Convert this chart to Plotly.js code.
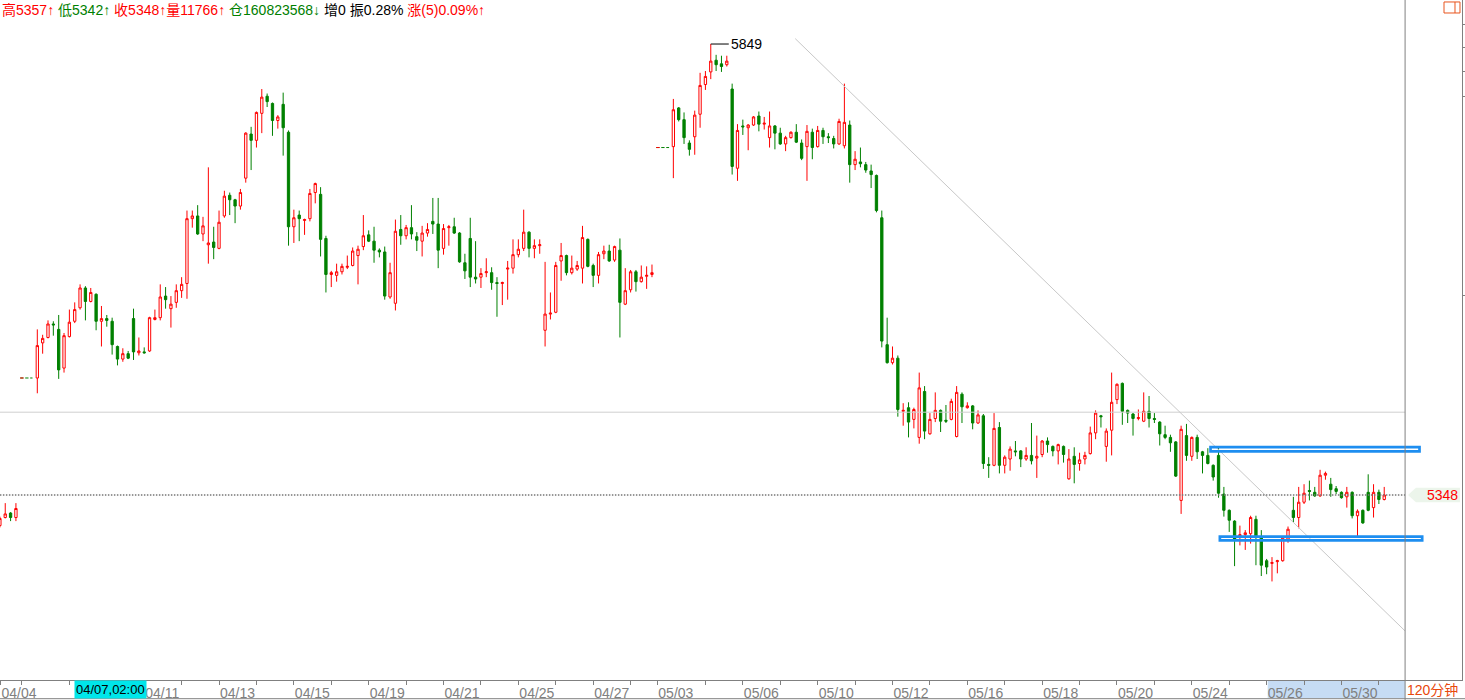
<!DOCTYPE html>
<html><head><meta charset="utf-8">
<script src="https://cdn.plot.ly/plotly-3.0.1.min.js"></script>
<style>html,body{margin:0;padding:0;background:#fff;overflow:hidden}#chart{width:1465px;height:700px}</style>
</head><body><div id="chart"></div>
<script>
// ---------- DATA (120-minute bars, prices) ----------
// segment A: tail of previous series (starts at slot -7)
const startA = -7;
const openA  = [5314, 5323, 5328, 5323];
const highA  = [5324, 5339, 5329, 5339];
const lowA   = [5312, 5322, 5319, 5319];
const closeA = [5322, 5327, 5323, 5333];

// segment B: 04/04 .. 04/28 (starts at slot 0)
const startB = 0;
const openB = [5478,5517,5523,5538,5532,5489,5524,5541,5556,5578,5563,5571,5541,5544,5541,5513,5499,5505,5544,5506,
5507,5508,5543,5545,5569,5555,5562,5575,5583,5655,5658,5638,5626,5629,5622,5658,5681,5676,5669,5700,
5749,5742,5772,5791,5783,5764,5782,5751,5646,5659,5653,5655,5684,5682,5633,5593,5592,5596,5601,5603,
5614,5624,5637,5630,5620,5618,5568,5561,5643,5636,5645,5635,5630,5639,5652,5649,5622,5645,5646,5639,
5606,5633,5590,5590,5595,5595,5584,5583,5599,5600,5615,5622,5640,5622,5625,5531,5549,5551,5608,5614,
5595,5599,5600,5632,5603,5592,5616,5619,5609,5620,5560,5576,5596,5585,5591,5593];
const highB = [5532,5526,5542,5541,5548,5528,5554,5562,5582,5580,5578,5572,5558,5548,5545,5514,5511,5508,5555,5523,
5512,5546,5554,5582,5579,5569,5582,5590,5664,5664,5670,5657,5712,5646,5664,5686,5684,5677,5688,5751,
5757,5774,5799,5794,5784,5770,5795,5753,5665,5664,5655,5688,5695,5690,5636,5597,5605,5605,5614,5623,
5625,5659,5642,5646,5622,5624,5606,5654,5659,5648,5670,5640,5647,5650,5678,5678,5649,5648,5656,5640,
5616,5656,5630,5600,5611,5601,5590,5585,5608,5632,5632,5665,5641,5632,5632,5607,5573,5607,5628,5615,
5614,5608,5647,5633,5605,5618,5625,5626,5625,5633,5600,5598,5598,5603,5602,5604];
const lowB = [5461,5505,5522,5525,5477,5484,5523,5539,5554,5542,5562,5531,5513,5535,5504,5492,5496,5499,5498,5503,
5505,5507,5542,5542,5555,5534,5556,5567,5566,5645,5637,5630,5605,5610,5621,5656,5659,5650,5665,5695,
5709,5734,5750,5779,5747,5755,5725,5625,5628,5630,5637,5652,5672,5613,5573,5579,5585,5593,5599,5602,
5582,5620,5629,5606,5612,5565,5566,5553,5626,5632,5632,5619,5613,5635,5638,5600,5615,5625,5638,5606,
5588,5579,5583,5578,5590,5576,5546,5559,5565,5594,5612,5619,5612,5611,5616,5513,5543,5550,5586,5592,
5593,5597,5583,5601,5579,5583,5610,5607,5607,5523,5559,5573,5574,5584,5577,5590];
const closeB = [5514,5522,5538,5537,5487,5525,5540,5554,5578,5563,5573,5541,5544,5542,5515,5499,5505,5500,5507,5508,
5506,5545,5545,5568,5565,5560,5575,5582,5655,5658,5638,5647,5628,5623,5651,5680,5676,5669,5684,5750,
5742,5773,5790,5785,5764,5768,5756,5646,5656,5655,5654,5683,5694,5632,5593,5595,5596,5602,5602,5619,
5621,5636,5630,5620,5618,5569,5595,5641,5636,5645,5638,5631,5639,5643,5649,5620,5644,5646,5639,5607,
5597,5590,5588,5594,5596,5584,5583,5584,5600,5615,5621,5640,5622,5625,5626,5549,5550,5603,5614,5595,
5600,5603,5634,5602,5592,5615,5619,5608,5624,5562,5575,5596,5585,5590,5592,5595];

// segment C: 05/03 .. 05/30 (starts at slot 119)
const startC = 119;
const openC = [5735,5778,5765,5739,5746,5771,5804,5818,5831,5827,5826,5799,5711,5758,5756,5759,5769,5760,5745,5758,
5750,5738,5745,5751,5739,5735,5751,5735,5753,5746,5744,5738,5736,5759,5715,5718,5715,5708,5703,5656,
5515,5495,5500,5441,5445,5432,5412,5463,5416,5433,5442,5431,5432,5413,5460,5445,5447,5428,5436,5382,
5381,5423,5381,5388,5397,5397,5388,5392,5389,5393,5408,5402,5397,5402,5366,5391,5383,5388,5394,5417,
5436,5402,5420,5454,5472,5442,5438,5433,5430,5441,5433,5429,5415,5412,5407,5342,5414,5391,5412,5396,
5392,5381,5392,5349,5331,5319,5302,5304,5305,5321,5301,5275,5272,5274,5275,5299,5331,5323,5340,5353,
5351,5347,5370,5360,5355,5351,5346,5351,5325,5331,5351,5334,5351,5343];
const highC = [5788,5779,5773,5742,5775,5817,5819,5849,5837,5836,5836,5805,5760,5765,5760,5769,5774,5768,5774,5759,
5756,5747,5752,5760,5743,5759,5755,5758,5756,5750,5747,5766,5805,5764,5730,5734,5718,5715,5704,5664,
5545,5513,5503,5450,5451,5445,5484,5469,5439,5462,5443,5448,5455,5469,5462,5451,5448,5442,5438,5390,
5439,5429,5392,5402,5408,5398,5401,5428,5414,5409,5412,5403,5405,5403,5399,5401,5395,5396,5424,5442,
5437,5422,5484,5472,5473,5443,5439,5443,5462,5458,5439,5430,5425,5415,5408,5425,5427,5413,5415,5397,
5400,5382,5402,5357,5332,5320,5314,5309,5325,5325,5309,5277,5279,5276,5301,5313,5346,5357,5360,5364,
5357,5376,5374,5367,5358,5352,5357,5352,5332,5332,5371,5360,5354,5357];
const lowC = [5700,5763,5738,5725,5726,5756,5798,5810,5819,5818,5824,5704,5697,5748,5731,5758,5752,5754,5734,5732,
5737,5730,5744,5739,5720,5697,5721,5734,5738,5739,5733,5737,5733,5695,5709,5712,5706,5689,5662,5512,
5494,5493,5435,5425,5412,5422,5405,5410,5415,5429,5418,5428,5431,5412,5428,5444,5421,5427,5377,5367,
5380,5372,5372,5375,5391,5379,5386,5382,5367,5390,5395,5391,5382,5384,5365,5361,5375,5382,5393,5410,
5423,5385,5392,5449,5426,5428,5414,5431,5429,5423,5428,5403,5410,5396,5368,5327,5386,5386,5388,5372,
5382,5364,5345,5324,5307,5269,5292,5287,5294,5270,5258,5260,5252,5261,5274,5295,5318,5311,5338,5342,
5346,5346,5365,5346,5349,5344,5334,5322,5302,5316,5330,5323,5338,5342];
const closeC = [5776,5765,5745,5732,5770,5803,5813,5830,5826,5824,5830,5713,5753,5757,5759,5768,5760,5761,5758,5750,
5738,5745,5751,5740,5722,5752,5734,5753,5746,5745,5738,5763,5762,5715,5721,5716,5709,5704,5664,5519,
5495,5500,5443,5442,5429,5443,5467,5419,5432,5442,5430,5430,5452,5462,5446,5447,5428,5437,5383,5381,
5422,5381,5390,5399,5396,5388,5392,5386,5391,5408,5404,5397,5404,5393,5388,5382,5387,5392,5417,5439,
5435,5419,5451,5471,5441,5439,5433,5434,5441,5433,5432,5416,5412,5406,5369,5421,5392,5412,5396,5392,
5383,5368,5350,5331,5320,5299,5304,5306,5323,5301,5270,5268,5273,5275,5300,5310,5323,5340,5350,5352,
5347,5370,5372,5354,5352,5345,5351,5325,5330,5317,5331,5351,5343,5348];

// reference / drawn lines
const levelPrice = 5440;                 // thin grey horizontal level
const trendSlots = [141.8, 255.9];       // hand-drawn trend line
const trendPrices = [5855, 5197];
const gapSlots = [[-3.2, -0.9], [115.8, 118.2]];   // dashed markers at series joins
const gapPrices = [5478, 5734];
const boxSlots0 = [219.5, 221.25];       // blue drawn boxes
const boxSlots1 = [258.6, 259.1];
const boxPriceLo = [5396.4, 5297.7];
const boxPriceHi = [5401.3, 5301.7];
const panelEndSlot = 255.9;              // right edge of the price panel

// x-axis time labels
const labelSlots = [-6.9, 20, 34, 48, 62, 76, 90, 104, 116, 132, 146, 160, 174, 188, 202, 216, 230, 244];
const labelTexts = ['04/04','04/11','04/13','04/15','04/19','04/21','04/25','04/27','05/03',
                    '05/06','05/10','05/12','05/16','05/18','05/20','05/24','05/26','05/30'];
const minorSlots = [-3, 6, 13, 27, 41, 55, 69, 83, 97, 111, 125, 139, 153, 167, 181, 195, 209, 223, 237, 251];
const rightTicks = [5871, 5845, 5819, 5791, 5570];
const cursorSlot = 13.6, cursorText = '04/07,02:00';
const selectionSlots = [230.2, 255.9];
const volume = 11766, openInterest = 160823568, oiChange = 0, amplitude = '0.28%', change = 5, changePct = '0.09%';
const period = '120分钟';

// ---------- BUILD ----------
const seq = (s, n) => Array.from({length: n}, (_, i) => s + i);
const xs = [...seq(startA, openA.length), ...seq(startB, openB.length), ...seq(startC, openC.length)];
const O = [...openA, ...openB, ...openC];
const H = [...highA, ...highB, ...highC];
const L = [...lowA, ...lowB, ...lowC];
const C = [...closeA, ...closeB, ...closeC];
const n = C.length;
const lastClose = C[n-1], lastHigh = H[n-1], lastLow = L[n-1];
let mi = 0; for (let i = 1; i < n; i++) if (H[i] > H[mi]) mi = i;

const FONT = 'Liberation Sans, Arial, Noto Sans CJK SC, sans-serif';
const RED = '#FF0000', GREEN = '#008000';
const firstSlot = xs[0];

const traces = [];
traces.push({type:'scatter', mode:'lines', x:[firstSlot, panelEndSlot], y:[levelPrice, levelPrice],
  line:{color:'#CFCFCF', width:1}, hoverinfo:'skip'});
traces.push({type:'scatter', mode:'lines', x:trendSlots, y:trendPrices,
  line:{color:'#C8C8C8', width:1}, hoverinfo:'skip'});
traces.push({type:'scatter', mode:'lines', x:[firstSlot, panelEndSlot], y:[lastClose, lastClose],
  line:{color:'#777777', width:1.5, dash:'1.5px,1.5px'}, hoverinfo:'skip'});
gapSlots.forEach((g, k) => {
  traces.push({type:'scatter', mode:'lines', x:g, y:[gapPrices[k], gapPrices[k]],
    line:{color:GREEN, width:1, dash:'3.3px,1.7px'}, hoverinfo:'skip'});
  traces.push({type:'scatter', mode:'lines', x:[g[0], g[0] + 0.62], y:[gapPrices[k], gapPrices[k]],
    line:{color:RED, width:1}, hoverinfo:'skip'});
});
traces.push({type:'candlestick', x:xs, open:O, high:H, low:L, close:C,
  increasing:{line:{color:RED, width:1}, fillcolor:'#FFFFFF'},
  decreasing:{line:{color:GREEN, width:1}, fillcolor:GREEN},
  whiskerwidth:0, hoverinfo:'skip'});

const shapes = [];
for (let k = 0; k < boxSlots0.length; k++) {
  shapes.push({type:'rect', xref:'x', yref:'y', x0:boxSlots0[k], x1:boxSlots1[k], y0:boxPriceLo[k], y1:boxPriceHi[k],
    line:{color:'#1E8EF0', width:2.7}, fillcolor:'rgba(0,0,0,0)'});
}
// time-axis selection band
shapes.push({type:'rect', xref:'x', yref:'paper', x0:selectionSlots[0], x1:selectionSlots[1], y0:-0.0265, y1:-0.0015,
  line:{width:0}, fillcolor:'#C6DCF4', layer:'below'});
// panel frame lines
shapes.push({type:'line', xref:'x', yref:'paper', x0:panelEndSlot, x1:panelEndSlot, y0:-0.03, y1:1, line:{color:'#808080', width:1}});
shapes.push({type:'line', xref:'paper', yref:'paper', x0:0, x1:1.003, y0:-0.0275, y1:-0.0275, line:{color:'#808080', width:1}});
// last price tag background
shapes.push({type:'path', xref:'paper', yref:'y',
  path:`M 0.9631 ${lastClose} L 0.9685 ${lastClose+8} L 0.9986 ${lastClose+8} L 0.9986 ${lastClose-8} L 0.9685 ${lastClose-8} Z`,
  fillcolor:'#ECF5EB', line:{width:0}});
// small window icon top-right
shapes.push({type:'rect', xref:'paper', yref:'paper', x0:0.98769, x1:0.99863, y0:0.9809, y1:0.9971,
  line:{color:'#E8541E', width:1}, fillcolor:'rgba(0,0,0,0)'});
shapes.push({type:'line', xref:'paper', yref:'paper', x0:0.99521, x1:0.99521, y0:0.9809, y1:0.9971,
  line:{color:'#E8541E', width:1}});

const sp = (c, t) => `<span style="color:${c}">${t}</span>`;
const header = sp(RED, '高' + lastHigh + '↑') + ' ' + sp(GREEN, '低' + lastLow + '↑') + ' ' + sp(RED, '收' + lastClose + '↑') +
  sp(RED, '量' + volume + '↑') + ' ' + sp(GREEN, '仓' + openInterest + '↓') + ' ' + sp('#000', '增' + oiChange) + ' ' +
  sp('#000', '振' + amplitude) + ' ' + sp(RED, '涨(' + change + ')' + changePct + '↑');

const annotations = [
  {xref:'paper', yref:'paper', x:0, y:1, xanchor:'left', yanchor:'top', showarrow:false, text:header,
   font:{family:FONT, size:14}},
  {xref:'x', yref:'y', x:xs[mi], y:H[mi], text:String(H[mi]), showarrow:true, arrowhead:0, arrowwidth:1,
   arrowcolor:'#000', ax:18, ay:0, xanchor:'left', font:{family:FONT, size:14, color:'#000'}},
  {xref:'x', yref:'paper', x:cursorSlot, y:-0.0147, yanchor:'middle', xanchor:'center', showarrow:false, text:cursorText,
   bgcolor:'#00E6EA', borderpad:1, font:{family:FONT, size:13, color:'#000'}},
  {xref:'paper', yref:'y', x:0.9986, y:lastClose, xanchor:'right', yanchor:'middle', showarrow:false, text:String(lastClose),
   font:{family:FONT, size:14, color:RED}},
  {xref:'paper', yref:'paper', x:0.9986, y:-0.0147, xanchor:'right', yanchor:'middle', showarrow:false, text:period,
   font:{family:FONT, size:14, color:'#E8480C'}}
];

const layout = {
  width:1465, height:700, margin:{l:0, r:3, t:0, b:20, pad:0},
  paper_bgcolor:'#FFFFFF', plot_bgcolor:'#FFFFFF', showlegend:false,
  boxgap:0.57, boxgroupgap:0,
  xaxis:{type:'linear', range:[-6.98, 266.55], rangeslider:{visible:false}, showgrid:false, zeroline:false,
    showline:true, linecolor:'#808080', linewidth:1, automargin:false, fixedrange:true,
    tickmode:'array', tickvals:labelSlots, ticktext:labelTexts, ticks:'outside', ticklen:4, tickwidth:1, tickcolor:'#808080',
    ticklabelposition:'outside right', tickfont:{family:FONT, size:14, color:'#808080'},
    minor:{tickmode:'array', tickvals:minorSlots, ticks:'outside', ticklen:4, tickwidth:1, tickcolor:'#808080', showgrid:false}},
  yaxis:{range:[5142.5, 5897.9], side:'right', showgrid:false, zeroline:false, showline:true, linecolor:'#808080',
    automargin:false, fixedrange:true, tickmode:'array', tickvals:rightTicks, ticks:'outside', ticklen:3, tickcolor:'#808080',
    showticklabels:false},
  shapes, annotations
};

Plotly.newPlot('chart', traces, layout, {displayModeBar:false, staticPlot:true});
</script></body></html>
